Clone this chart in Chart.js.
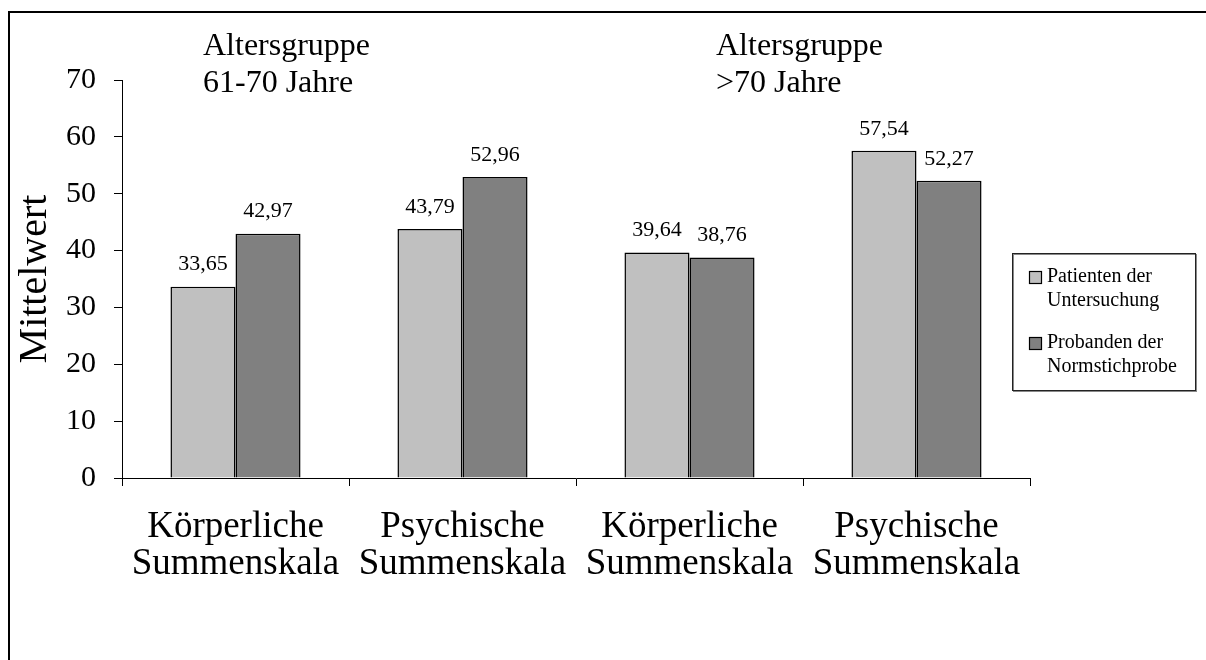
<!DOCTYPE html>
<html>
<head>
<meta charset="utf-8">
<script src="https://cdn.jsdelivr.net/npm/chart.js@4.4.1/dist/chart.umd.min.js"></script>
<style>
html,body{margin:0;padding:0;background:#fff;}
#wrap{position:relative;width:1206px;height:660px;}
canvas{display:block;}
</style>
</head>
<body>
<div id="wrap"><canvas id="c" width="1206" height="660"></canvas></div>
<script>
const categories = [
  ['Körperliche', 'Summenskala'],
  ['Psychische', 'Summenskala'],
  ['Körperliche', 'Summenskala'],
  ['Psychische', 'Summenskala']
];
const seriesNames = [['Patienten der', 'Untersuchung'], ['Probanden der', 'Normstichprobe']];
const patienten = [33.65, 43.79, 39.64, 57.54];
const probanden = [42.97, 52.96, 38.76, 52.27];
const yMin = 0, yMax = 70, yStep = 10;
const yTitle = 'Mittelwert';
const groupLabels = [['Altersgruppe', '61-70 Jahre'], ['Altersgruppe', '>70 Jahre']];

const FONT = '"Liberation Serif", "Times New Roman", serif';
const fmt = v => v.toFixed(2).replace('.', ',');

const decor = {
  id: 'decor',
  beforeDraw(chart) {
    const ctx = chart.ctx;
    ctx.save();
    ctx.fillStyle = '#fff';
    ctx.fillRect(0, 0, chart.width, chart.height);
    ctx.strokeStyle = '#000';
    ctx.lineWidth = 2;
    ctx.beginPath();
    ctx.moveTo(9, chart.height + 5);
    ctx.lineTo(9, 12);
    ctx.lineTo(chart.width + 5, 12);
    ctx.stroke();
    ctx.restore();
  },
  afterDatasetsDraw(chart) {
    const ctx = chart.ctx;
    ctx.save();
    ctx.fillStyle = '#000';
    ctx.font = '22px ' + FONT;
    ctx.textAlign = 'center';
    ctx.textBaseline = 'middle';
    chart.data.datasets.forEach((ds, di) => {
      const meta = chart.getDatasetMeta(di);
      meta.data.forEach((bar, i) => {
        ctx.fillText(fmt(ds.data[i]), bar.x, bar.y - 22);
      });
    });
    // group annotations
    ctx.font = '32px ' + FONT;
    ctx.textAlign = 'left';
    ctx.textBaseline = 'alphabetic';
    const xs = [203, 716];
    groupLabels.forEach((lines, g) => {
      lines.forEach((t, k) => ctx.fillText(t, xs[g], 55 + k * 37));
    });
    // legend
    const lx = 1012, ly = 253, lw = 183, lh = 137;
    ctx.fillStyle = '#fff';
    ctx.fillRect(lx, ly, lw, lh);
    ctx.strokeStyle = '#888';
    ctx.lineWidth = 1;
    ctx.strokeRect(lx + 1.5, ly + 1.5, lw, lh);
    ctx.strokeStyle = '#222';
    ctx.strokeRect(lx + 0.5, ly + 0.5, lw, lh);
    ctx.font = '20px ' + FONT;
    ctx.textBaseline = 'middle';
    chart.data.datasets.forEach((ds, di) => {
      const y0 = ly + 24 + di * 66;
      ctx.fillStyle = ds.backgroundColor;
      ctx.fillRect(lx + 17, y0 - 6, 13, 13);
      ctx.strokeStyle = '#000';
      ctx.lineWidth = 1.2;
      ctx.strokeRect(lx + 17.5, y0 - 5.5, 12, 12);
      ctx.fillStyle = '#000';
      seriesNames[di].forEach((t, k) => ctx.fillText(t, lx + 35, y0 + k * 24));
    });
    ctx.restore();
  }
};

new Chart(document.getElementById('c'), {
  type: 'bar',
  data: {
    labels: categories,
    datasets: [
      { label: seriesNames[0].join(' '), data: patienten, backgroundColor: '#C0C0C0', borderColor: '#000', borderWidth: 1.5 },
      { label: seriesNames[1].join(' '), data: probanden, backgroundColor: '#808080', borderColor: '#000', borderWidth: 1.5 }
    ]
  },
  options: {
    responsive: false,
    animation: false,
    devicePixelRatio: 1,
    layout: { padding: { left: 0, top: 80, right: 176, bottom: 0 } },
    datasets: { bar: { categoryPercentage: 0.573, barPercentage: 1.0 } },
    plugins: { legend: { display: false }, tooltip: { enabled: false } },
    scales: {
      x: {
        grid: { display: true, offset: true, drawOnChartArea: false, drawTicks: true, tickLength: 8, color: '#000', lineWidth: 1 },
        border: { display: true, color: '#000', width: 1 },
        ticks: { color: '#000', font: { family: FONT, size: 37, lineHeight: 1.0 }, padding: 23, maxRotation: 0, autoSkip: false },
        afterFit(s) { s.height = 182; }
      },
      y: {
        min: yMin, max: yMax,
        grid: { display: true, drawOnChartArea: false, drawTicks: true, tickLength: 8, color: '#000', lineWidth: 1 },
        border: { display: true, color: '#000', width: 1 },
        ticks: { stepSize: yStep, color: '#000', font: { family: FONT, size: 30 }, padding: 18 },
        title: { display: true, text: yTitle, color: '#000', font: { family: FONT, size: 40, lineHeight: 1.1 }, padding: { top: 13, bottom: 0 } },
        afterFit(s) { s.width = 122; }
      }
    }
  },
  plugins: [decor]
});
</script>
</body>
</html>
